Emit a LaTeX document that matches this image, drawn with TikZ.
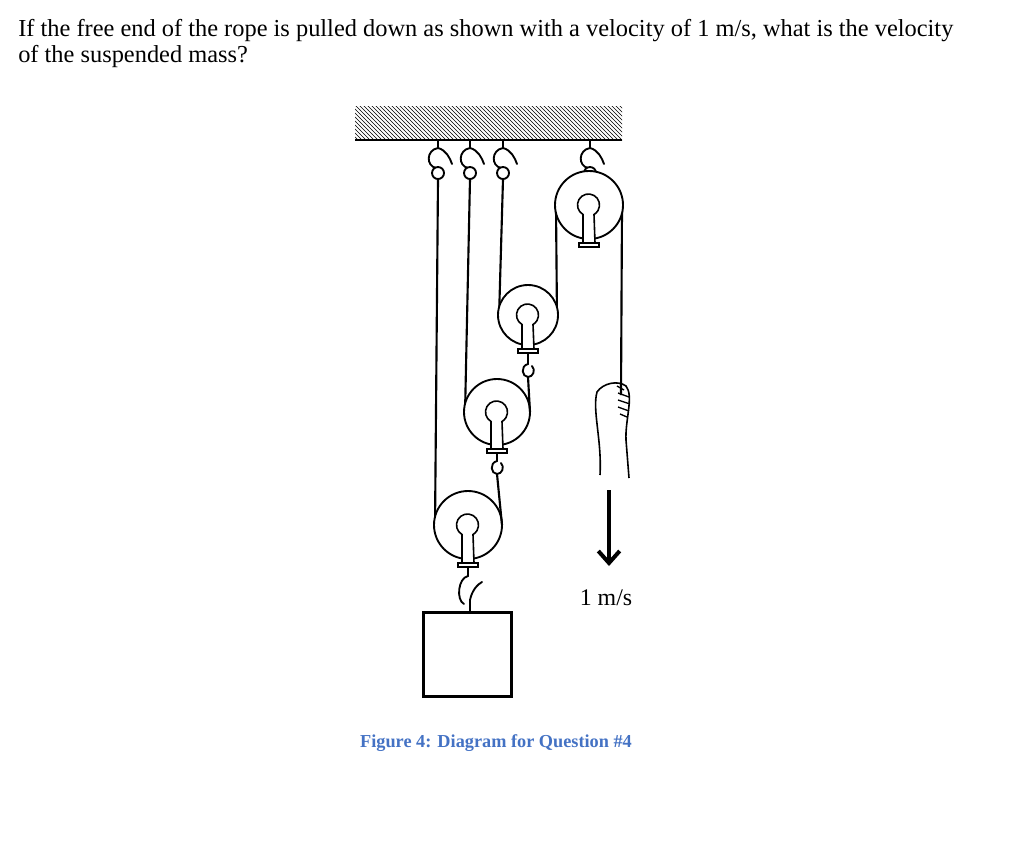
\documentclass[tikz,border=0pt]{standalone}
\usepackage{fontspec}
\setmainfont{Liberation Serif}
\usetikzlibrary{arrows.meta,patterns}
\definecolor{capblue}{RGB}{68,114,196}
\tikzset{rope/.style={line width=1.6pt},
 pul/.style={line width=1.4pt,fill=white},
 hk/.style={line width=1.4pt,line cap=round}}
\newcommand{\hookat}[2]{% x, y top
 \draw[hk] (#1,#2) -- (#1,#2+8) .. controls (#1-12,#2+10) and (#1-12,#2+26) .. (#1-2,#2+28)
   (#1,#2+8) .. controls (#1+8,#2+10) and (#1+12,#2+18) .. (#1+14,#2+24);
 \draw[hk,fill=white] (#1,#2+33) circle (6);}
\newcommand{\pulleyat}[4]{% name, x, y, r
 \coordinate (#1) at (#2,#3);
 \draw[pul] (#2,#3) circle (#4);
 \draw[line width=1.2pt,fill=white] (#2-6,#3+#4+4) -- (#2-6,#3+9.5) arc[start angle=120,end angle=420,radius=11] -- (#2+6,#3+#4+4);
 \draw[line width=1.2pt,fill=white] (#2-10,#3+#4+4) rectangle (#2+10,#3+#4+8);}
\begin{document}
\begin{tikzpicture}[x=0.75pt,y=-0.75pt]
\useasboundingbox (0,0) rectangle (1024,858);
\node[anchor=base west,inner sep=0,font=\fontsize{18.3}{22}\selectfont] (q1) at (18,36) {If the free end of the rope is pulled down as shown with a velocity of 1 m/s, what is the velocity};
\node[anchor=base west,inner sep=0,font=\fontsize{18.3}{22}\selectfont] (q2) at (18,62) {of the suspended mass?};
% ceiling
\fill[pattern=north west lines] (355,106) rectangle (622,140);
\draw[line width=2pt] (355,140) -- (622,140);
% hooks
\hookat{438}{140}\hookat{470}{140}\hookat{503}{140}\hookat{590}{140}
% ropes fixed
\draw[rope] (438,179) -- (435,527);
\draw[rope] (470,179) -- (465,414);
\draw[rope] (503,179) -- (499,318);
\draw[rope] (557,318) -- (556,208);
\draw[rope] (622,208) -- (621,395);
% pulleys
\pulleyat{p0}{589}{205}{34}
\pulleyat{p1}{528}{315}{30}
\pulleyat{p2}{497}{412}{33}
\pulleyat{p3}{468}{525}{34}
% hooks under moving pulleys and connecting ropes
\draw[hk] (528,353) -- (528,364) .. controls (520,366) and (522,377) .. (528,377) .. controls (533,377) and (536,370) .. (532,366);
\draw[rope] (528,377) -- (530,412);
\draw[hk] (497,453) -- (497,461) .. controls (489,463) and (491,474) .. (497,474) .. controls (502,474) and (505,467) .. (501,463);
\draw[rope] (497,474) -- (502,525);
\draw[hk] (468,567) -- (468,576) .. controls (458,578) and (456,600) .. (464,604)
  (470,600) .. controls (472,590) and (478,584) .. (482,582) (470,600) -- (470,612);
% mass
\node[draw,line width=2pt,minimum width=66pt,minimum height=63pt,inner sep=0] (m) at (467.5,654.5) {};
% hand
\draw[line width=1.2pt] (600,475) .. controls (602,440) and (592,410) .. (597,392) .. controls (603,383) and (618,380) .. (626,386) .. controls (634,396) and (625,420) .. (626,440) -- (629,478);
\draw[line width=1pt] (617,386) -- (624,390) (618,393) -- (629,397) (618,400) -- (630,404) (618,407) -- (629,411) (620,414) -- (627,417);
% arrow
\coordinate (a1) at (609,490);\coordinate (a2) at (609,566);
\draw[line width=3pt,-{Straight Barb[length=9pt,width=16pt,line width=3pt]}] (a1) -- (a2);
\node[font=\fontsize{17.9}{20}\selectfont] (v) at (606,598) {1 m/s};
\node[font=\bfseries\fontsize{13.7}{16}\selectfont,text=capblue] (cap) at (496,743) {Figure 4: Diagram for Question \#4};
\end{tikzpicture}
\end{document}
